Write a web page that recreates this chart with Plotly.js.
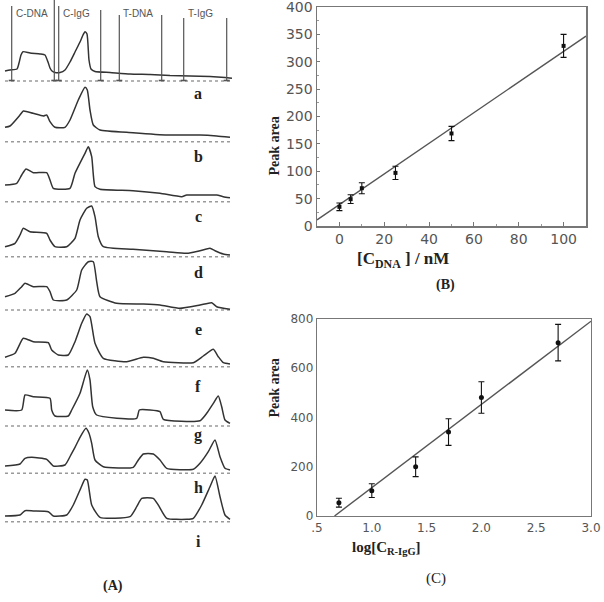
<!DOCTYPE html>
<html><head><meta charset="utf-8">
<script src="https://cdn.plot.ly/plotly-3.0.1.min.js"></script>
<style>html,body{margin:0;padding:0;background:#fff}</style>
</head><body><div id="chart" style="width:604px;height:602px"></div>
<script>
// ---------- Panel A: electropherograms (x position, signal height) ----------
const traceLabels = ["a","b","c","d","e","f","g","h","i"];
const baselines = [81, 141.7, 201.7, 256.7, 310, 366.7, 426, 473.3, 521.7];
const labelY = [93, 156, 216, 272, 329, 386, 435, 487, 541];

const x1 = [5,10,17,19,21,23,30,40,45,48,50,52,55,60,65,70,75,80,83,85,87,89,91,95,110,130,150,170,190,210,225,232];
const h1 = [10,11,12,18,26,29.3,28,27,26,19,13,10,8.5,8.5,11,19,29,39,46,49.3,47,21,12,9.5,8.5,7,6.5,5.5,5,4.5,3.5,2.7];
const x2 = [5,10,20,23.3,33,43.3,46.7,50,55,65,70,78.3,85,87.3,90,93.3,100,133,167,200,216.7,230];
const h2 = [14.4,15.7,26.7,30.7,28.4,25.7,26.7,20,14.4,14.4,21.7,41.7,54.4,51.7,31.7,16.7,11.7,9,6.7,6.7,5.7,4.4];
const x3 = [5,16.7,21.7,26,33.3,46.7,50,53.3,70,75,85,88.3,91.7,95,100,133,160,181.7,186.7,200,216.7,223.3,230];
const h3 = [16.7,18.4,26.7,32.7,29,29,21.7,13.4,13.4,28.4,48.4,55,45,15,12.4,11,8.4,5,6.7,6.7,6.7,5,4];
const x4 = [5,15,20,23.3,30,46.7,50,55,66.7,75,80,86.7,91.7,95,98.3,103.3,133,166.7,186.7,200,210,215,223.3,230];
const h4 = [10,13.4,21.7,28.4,25,23.4,16.7,10,10,18.4,36.7,48.4,50.7,40,20,10,7.4,5,3.4,6,8.4,6,2.7,1.7];
const x5 = [5,15,21.7,25,33.3,46.7,50,53.3,66.7,76.7,81.7,88.3,93.3,96.7,100,116.7,143.3,160,180,200,211.7,216.7,230];
const h5 = [13.3,16.7,23.3,26.7,23.3,23.3,18.3,10,10,20,40,48.3,48.3,28.3,13.3,6.7,6,5,1.7,5,7.3,3.3,0.7];
const x6 = [5,15,23.3,33.3,48.3,51.7,58.3,68.3,75,81.7,86.7,90,95,103.3,126.7,143.3,153.3,163.3,193.3,203.3,213.3,218.3,223.3,230];
const h6 = [9.4,13.4,28.4,25,24,16.7,11.7,11.7,25,43.4,52.7,50,23.4,8.4,5,9.4,8.4,5,4,10.7,17.4,10,4,2.7];
const x7 = [5,21.7,25,33.3,50,51.7,55,68.3,71.7,80,87.3,90,92.7,96.7,136.7,139.3,150,160,163.3,200,206.7,213.3,218.3,221.7,225,230];
const h7 = [16,16,31,29.3,27.7,16,10,10,16,32.7,56,46,19.3,11,7.7,16,16,14.3,6.7,5.3,12.7,22.7,30,19.3,6,2.7];
const x8 = [5,20,25,31.7,46.7,53.3,65,71.7,75,80,86,89,91.7,95,103.3,133.3,138.3,143.3,153.3,160,166.7,193.3,200,208.3,215,220,225,230];
const h8 = [7.3,9.3,15,16,14,7.3,8.3,20,26,36,45,40,30,13.3,6.6,6,13.3,19.3,19.3,13.3,5,4,10,21.6,33.3,16.6,5,3.3];
const x9 = [5,20,25,33.3,48.3,53.3,66.7,73.3,80,85,87.3,91.7,100,130,136.7,141.7,153.3,158.3,166.7,186.7,193.3,201.7,210,215,220,225,230];
const h9 = [5.7,6.7,11,10.7,10,5.7,6.7,16.7,31.7,42.4,41.7,16.7,4.4,5,15,23.4,23.4,16.7,3.4,2.4,3.4,16.7,35,45.7,25,6.7,2.4];

const traceX = [x1,x2,x3,x4,x5,x6,x7,x8,x9];
const traceH = [h1,h2,h3,h4,h5,h6,h7,h8,h9];

// detector window markers on the first trace
const markerX = [11.7, 54.3, 58.7, 100.7, 119.3, 161.7, 183.7, 226.7];
const markerTop = [6, 0, 6, 10, 15, 15, 18, 18];
const zoneNames = ["C-DNA","C-IgG","T-DNA","T-IgG"];
const zoneX = [14, 61, 121, 186];
const baseStart = 5, baseEnd = 232;

// ---------- Panel B ----------
const cDNA = [0, 5, 10, 25, 50, 100];
const areaB = [35, 49, 69, 97, 169, 329];
const errB = [7, 8, 10, 12, 13, 21];
const fitBx = [-10, 110];
const fitBslope = 2.8, fitBint = 39;
const bYTicks = [0,50,100,150,200,250,300,350,400];
const bXTicks = [0,20,40,60,80,100];

// ---------- Panel C ----------
const logIgG = [0.7, 1.0, 1.4, 1.7, 2.0, 2.7];
const areaC = [54, 103, 200, 341, 481, 704];
const errC = [18, 28, 40, 54, 64, 74];
const fitCx = [0.66, 3.0];
const fitCslope = 338, fitCint = -223;
const cTickVals = [0.5,1.0,1.5,2.0,2.5,3.0];
const cTickText = [".5","1.0","1.5","2.0","2.5","3.0"];
const cYTicks = [0,200,400,600,800];

const data = [];
baselines.forEach(b => {
  data.push({x:[baseStart, baseEnd], y:[b,b], xaxis:'x3', yaxis:'y3', mode:'lines',
    line:{color:'#9a9a9a', width:1.6, dash:'dot'}, hoverinfo:'skip'});
});
traceX.forEach((xs, i) => {
  data.push({x: xs, y: traceH[i].map(h => baselines[i] - h), xaxis:'x3', yaxis:'y3',
    mode:'lines', line:{color:'#333', width:1.5, shape:'spline', smoothing:0.5}, hoverinfo:'skip'});
});
markerX.forEach((mx, i) => {
  data.push({x:[mx,mx], y:[markerTop[i], baselines[0]], xaxis:'x3', yaxis:'y3', mode:'lines',
    line:{color:'#555', width:1.2}, hoverinfo:'skip'});
  data.push({x:[mx-3, mx+3], y:[baselines[0]-0.5, baselines[0]-0.5], xaxis:'x3', yaxis:'y3', mode:'lines',
    line:{color:'#555', width:1.6}, hoverinfo:'skip'});
});
data.push({x: fitBx, y: fitBx.map(v => fitBslope*v + fitBint), xaxis:'x', yaxis:'y', mode:'lines',
  line:{color:'#555', width:1.4}});
data.push({x: cDNA, y: areaB, xaxis:'x', yaxis:'y', mode:'markers',
  marker:{color:'#111', size:4, symbol:'square'},
  error_y:{type:'data', array: errB, visible:true, color:'#111', thickness:1.1, width:3}});
data.push({x: fitCx, y: fitCx.map(v => fitCslope*v + fitCint), xaxis:'x2', yaxis:'y2', mode:'lines',
  line:{color:'#555', width:1.4}});
data.push({x: logIgG, y: areaC, xaxis:'x2', yaxis:'y2', mode:'markers',
  marker:{color:'#111', size:5, symbol:'circle'},
  error_y:{type:'data', array: errC, visible:true, color:'#111', thickness:1.1, width:3}});

const W = 604, H = 602;
const tickFontB = {family:'DejaVu Sans', size:14, color:'#555'};
const tickFontC = {family:'DejaVu Sans', size:12, color:'#555'};
const serifBold = (s) => ({family:'Liberation Serif', size:s, color:'#222'});

const annotations = [];
traceLabels.forEach((t, i) => {
  annotations.push({xref:'x3', yref:'y3', x:198, y:labelY[i], text:'<b>'+t+'</b>', showarrow:false,
    font:serifBold(16)});
});
zoneNames.forEach((t, i) => {
  annotations.push({xref:'x3', yref:'y3', x:zoneX[i], y:13, text:t, showarrow:false, xanchor:'left',
    font:{family:'Liberation Sans', size:10, color:'#555'}});
});
annotations.push({xref:'x3', yref:'y3', x:113, y:586, text:'<b>(A)</b>', showarrow:false, font:serifBold(14)});
annotations.push({xref:'paper', yref:'paper', x:274/W, y:1-115/H, text:'<b>Peak area</b>', textangle:-90,
  showarrow:false, font:serifBold(14)});
annotations.push({xref:'paper', yref:'paper', x:451/W, y:1-260/H, text:'<b>[C<sub>DNA</sub> ] / nM</b>',
  showarrow:false, font:serifBold(17)});
annotations.push({xref:'paper', yref:'paper', x:457/W, y:1-285/H, text:'<b>(B)</b>', showarrow:false, font:serifBold(14)});
annotations.push({xref:'paper', yref:'paper', x:274/W, y:1-420/H, text:'<b>Peak area</b>', textangle:-90,
  showarrow:false, font:serifBold(14)});
annotations.push({xref:'paper', yref:'paper', x:423/W, y:1-559/H, text:'<b>log[C<sub>R-IgG</sub>]</b>',
  showarrow:false, font:serifBold(15)});
annotations.push({xref:'paper', yref:'paper', x:448/W, y:1-589/H, text:'(C)', showarrow:false, font:serifBold(15)});

const layout = {
  width: W, height: H, margin:{l:0,r:0,t:0,b:0}, paper_bgcolor:'#fff', plot_bgcolor:'rgba(0,0,0,0)',
  showlegend:false,
  xaxis3:{domain:[0, 240/W], range:[0,240], visible:false, fixedrange:true},
  yaxis3:{domain:[0,1], range:[H,0], visible:false, fixedrange:true},
  xaxis:{domain:[317/W, 586/W], range:[-10,110], anchor:'y', showgrid:false, zeroline:false,
    showline:true, linecolor:'#777', linewidth:1.5, mirror:true, ticks:'inside', ticklen:4, tickcolor:'#777',
    tickmode:'array', tickvals:bXTicks, tickfont:tickFontB,
    minor:{ticks:'inside', ticklen:2, tickvals:[10,30,50,70,90], tickcolor:'#999'}},
  yaxis:{domain:[1-226/H, 1-7/H], range:[-0.05,400.05], anchor:'x', showgrid:false, zeroline:false,
    showline:true, linecolor:'#777', linewidth:1.5, mirror:true, ticks:'inside', ticklen:3, tickcolor:'#777',
    tickmode:'array', tickvals:bYTicks, tickfont:tickFontB, ticklabeloverflow:'allow',
    minor:{ticks:'inside', ticklen:2, dtick:25, tickcolor:'#999'}},
  xaxis2:{domain:[317/W, 591/W], range:[0.5,3.0], anchor:'y2', showgrid:false, zeroline:false,
    showline:true, linecolor:'#777', linewidth:1.3, mirror:true, ticks:'',
    tickmode:'array', tickvals:cTickVals, ticktext:cTickText, tickfont:tickFontC},
  yaxis2:{domain:[1-516/H, 1-319/H], range:[0,800], anchor:'x2', showgrid:false, zeroline:false,
    showline:true, linecolor:'#777', linewidth:1.3, mirror:true, ticks:'',
    tickmode:'array', tickvals:cYTicks, tickfont:tickFontC},
  annotations: annotations
};
Plotly.newPlot('chart', data, layout, {staticPlot:true, displayModeBar:false});
</script></body></html>
